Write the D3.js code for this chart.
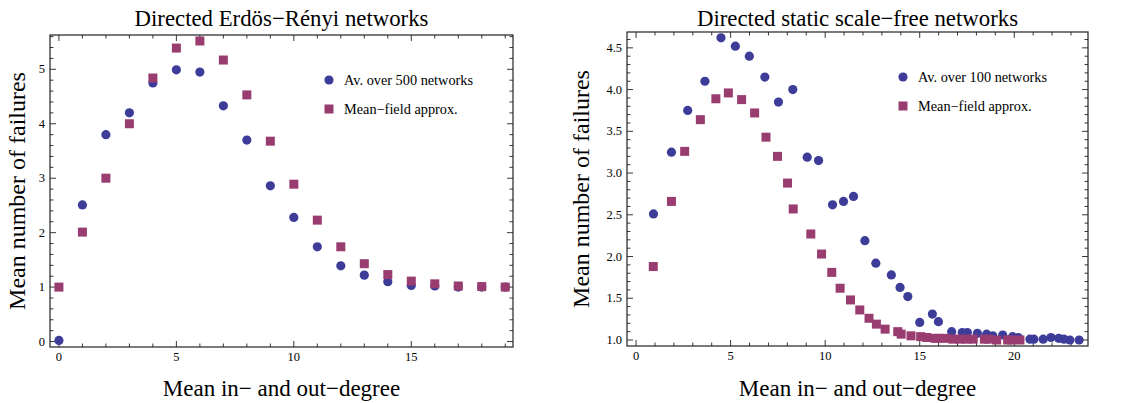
<!DOCTYPE html>
<html>
<head>
<meta charset="utf-8">
<script src="https://cdn.jsdelivr.net/npm/d3@7"></script>
<style>
  body { margin: 0; background: #fff; }
  text { font-family: "Liberation Serif", "Times New Roman", serif; fill: #000; }
</style>
</head>
<body>
<svg id="chart" width="1145" height="403"></svg>
<script>
// left panel: directed Erdos-Renyi
var erDegree = [0, 1, 2, 3, 4, 5, 6, 7, 8, 9, 10, 11, 12, 13, 14, 15, 16, 17, 18, 19];
var erSim = [0.02, 2.51, 3.80, 4.20, 4.75, 4.99, 4.95, 4.33, 3.70, 2.86, 2.28, 1.74, 1.39, 1.22, 1.10, 1.03, 1.02, 1.00, 1.00, 1.00];
var erMF = [1.00, 2.01, 3.00, 4.00, 4.84, 5.39, 5.52, 5.17, 4.53, 3.68, 2.89, 2.23, 1.74, 1.43, 1.23, 1.11, 1.06, 1.02, 1.01, 1.00];

// right panel: directed static scale-free
var sfSimDegree = [0.92, 1.87, 2.73, 3.64, 4.49, 5.25, 5.99, 6.81, 7.53, 8.29, 9.05, 9.65, 10.39, 10.97, 11.5,
  12.1, 12.68, 13.5, 13.96, 14.37, 15.0, 15.67, 15.99, 16.69, 17.25, 17.52, 18.05, 18.54, 18.86, 19.39,
  19.91, 20.21, 20.83, 21.04, 21.53, 21.94, 22.35, 22.63, 22.94, 23.43];
var sfSim = [2.51, 3.25, 3.75, 4.10, 4.62, 4.52, 4.40, 4.15, 3.85, 4.00, 3.19, 3.15, 2.62, 2.66, 2.72,
  2.19, 1.92, 1.78, 1.63, 1.52, 1.21, 1.31, 1.22, 1.10, 1.09, 1.09, 1.08, 1.07, 1.05, 1.06,
  1.04, 1.03, 1.01, 1.01, 1.01, 1.03, 1.02, 1.01, 1.00, 1.00];
var sfMFDegree = [0.91, 1.87, 2.57, 3.40, 4.22, 4.88, 5.58, 6.27, 6.87, 7.48, 8.01, 8.31, 9.24, 9.81, 10.35,
  10.79, 11.34, 11.83, 12.32, 12.71, 13.17, 13.84, 14.02, 14.54, 15.05, 15.37, 15.81, 16.0, 16.38, 16.75,
  17.13, 17.48, 17.83, 18.42, 18.65, 19.07, 19.65, 19.86, 20.3];
var sfMF = [1.88, 2.66, 3.26, 3.64, 3.89, 3.96, 3.88, 3.72, 3.43, 3.20, 2.88, 2.57, 2.27, 2.03, 1.81,
  1.62, 1.48, 1.36, 1.26, 1.19, 1.13, 1.10, 1.07, 1.05, 1.04, 1.03, 1.02, 1.02, 1.02, 1.01,
  1.01, 1.01, 1.01, 1.01, 1.01, 1.00, 1.00, 1.00, 1.00];

var blue = "rgb(61,61,153)";
var purple = "rgb(153,61,113)";

var svg = d3.select("#chart");

function panel(opt) {
  var x = d3.scaleLinear().domain(opt.xDomain).range([opt.left, opt.right]);
  var y = d3.scaleLinear().domain(opt.yDomain).range([opt.bottom, opt.top]);
  var g = svg.append("g");

  // frame
  g.append("rect")
    .attr("x", opt.left).attr("y", opt.top)
    .attr("width", opt.right - opt.left).attr("height", opt.bottom - opt.top)
    .attr("fill", "none").attr("stroke", "#222").attr("stroke-width", 1.2);

  // ticks (inward, on all four sides)
  var xMinor = d3.range(Math.ceil(opt.xDomain[0]), opt.xDomain[1] + 1e-9, opt.xMinor);
  var yMinor = d3.range(Math.ceil(opt.yDomain[0] / opt.yMinor) * opt.yMinor, opt.yDomain[1] + 1e-9, opt.yMinor);
  var isMajor = function(v, step) { return Math.abs(v / step - Math.round(v / step)) < 1e-6; };

  xMinor.forEach(function(v) {
    var len = isMajor(v, opt.xMajor) ? 6 : 3.5;
    g.append("line").attr("x1", x(v)).attr("x2", x(v)).attr("y1", opt.bottom).attr("y2", opt.bottom - len)
      .attr("stroke", "#222").attr("stroke-width", 0.9);
    g.append("line").attr("x1", x(v)).attr("x2", x(v)).attr("y1", opt.top).attr("y2", opt.top + len)
      .attr("stroke", "#222").attr("stroke-width", 0.9);
  });
  yMinor.forEach(function(v) {
    var len = isMajor(v, opt.yMajor) ? 6 : 3.5;
    g.append("line").attr("y1", y(v)).attr("y2", y(v)).attr("x1", opt.left).attr("x2", opt.left + len)
      .attr("stroke", "#222").attr("stroke-width", 0.9);
    g.append("line").attr("y1", y(v)).attr("y2", y(v)).attr("x1", opt.right).attr("x2", opt.right - len)
      .attr("stroke", "#222").attr("stroke-width", 0.9);
  });

  g.selectAll(".xl").data(opt.xTicks).enter().append("text")
    .attr("x", function(d) { return x(d); }).attr("y", opt.bottom + 14)
    .attr("text-anchor", "middle").attr("font-size", 12.5)
    .text(function(d) { return d; });
  g.selectAll(".yl").data(opt.yTicks).enter().append("text")
    .attr("x", opt.left - 5).attr("y", function(d) { return y(d) + 4; })
    .attr("text-anchor", "end").attr("font-size", 12.5)
    .text(opt.yFormat);

  // titles
  g.append("text").attr("x", (opt.left + opt.right) / 2).attr("y", 26)
    .attr("text-anchor", "middle").attr("font-size", 22.8).text(opt.title);
  g.append("text").attr("x", (opt.left + opt.right) / 2).attr("y", 396)
    .attr("text-anchor", "middle").attr("font-size", 23).text("Mean in\u2212 and out\u2212degree");
  g.append("text")
    .attr("transform", "translate(" + opt.yLabelX + "," + ((opt.top + opt.bottom) / 2) + ") rotate(-90)")
    .attr("text-anchor", "middle").attr("font-size", 24).text("Mean number of failures");

  // points
  g.selectAll(".sim").data(opt.simX).enter().append("circle")
    .attr("cx", function(d) { return x(d); })
    .attr("cy", function(d, i) { return y(opt.simY[i]); })
    .attr("r", 4.6).attr("fill", blue);
  g.selectAll(".mf").data(opt.mfX).enter().append("rect")
    .attr("x", function(d) { return x(d) - 4.5; })
    .attr("y", function(d, i) { return y(opt.mfY[i]) - 4.5; })
    .attr("width", 9).attr("height", 9).attr("fill", purple);

  // legend
  g.append("circle").attr("cx", opt.legX).attr("cy", opt.legY).attr("r", 4.6).attr("fill", blue);
  g.append("text").attr("x", opt.legX + 15).attr("y", opt.legY + 5).attr("font-size", 14.3).text(opt.simLabel);
  g.append("rect").attr("x", opt.legX - 4.5).attr("y", opt.legY + 29 - 4.5).attr("width", 9).attr("height", 9).attr("fill", purple);
  g.append("text").attr("x", opt.legX + 15).attr("y", opt.legY + 34).attr("font-size", 14.3).text("Mean\u2212field approx.");
}

panel({
  left: 50, right: 513, top: 35, bottom: 347,
  xDomain: [-0.38, 19.33], yDomain: [-0.1, 5.63],
  xMajor: 5, xMinor: 1, yMajor: 1, yMinor: 0.2,
  xTicks: [0, 5, 10, 15], yTicks: [0, 1, 2, 3, 4, 5],
  yFormat: function(d) { return d; },
  title: "Directed Erd\u00f6s\u2212R\u00e9nyi networks",
  yLabelX: 25,
  simX: erDegree, simY: erSim, mfX: erDegree, mfY: erMF,
  legX: 329, legY: 80, simLabel: "Av. over 500 networks"
});

panel({
  left: 627, right: 1088, top: 32, bottom: 346,
  xDomain: [-0.48, 23.9], yDomain: [0.928, 4.69],
  xMajor: 5, xMinor: 1, yMajor: 0.5, yMinor: 0.1,
  xTicks: [0, 5, 10, 15, 20], yTicks: [1, 1.5, 2, 2.5, 3, 3.5, 4, 4.5],
  yFormat: function(d) { return d3.format(".1f")(d); },
  title: "Directed static scale\u2212free networks",
  yLabelX: 589,
  simX: sfSimDegree, simY: sfSim, mfX: sfMFDegree, mfY: sfMF,
  legX: 903, legY: 77, simLabel: "Av. over 100 networks"
});
</script>
</body>
</html>
